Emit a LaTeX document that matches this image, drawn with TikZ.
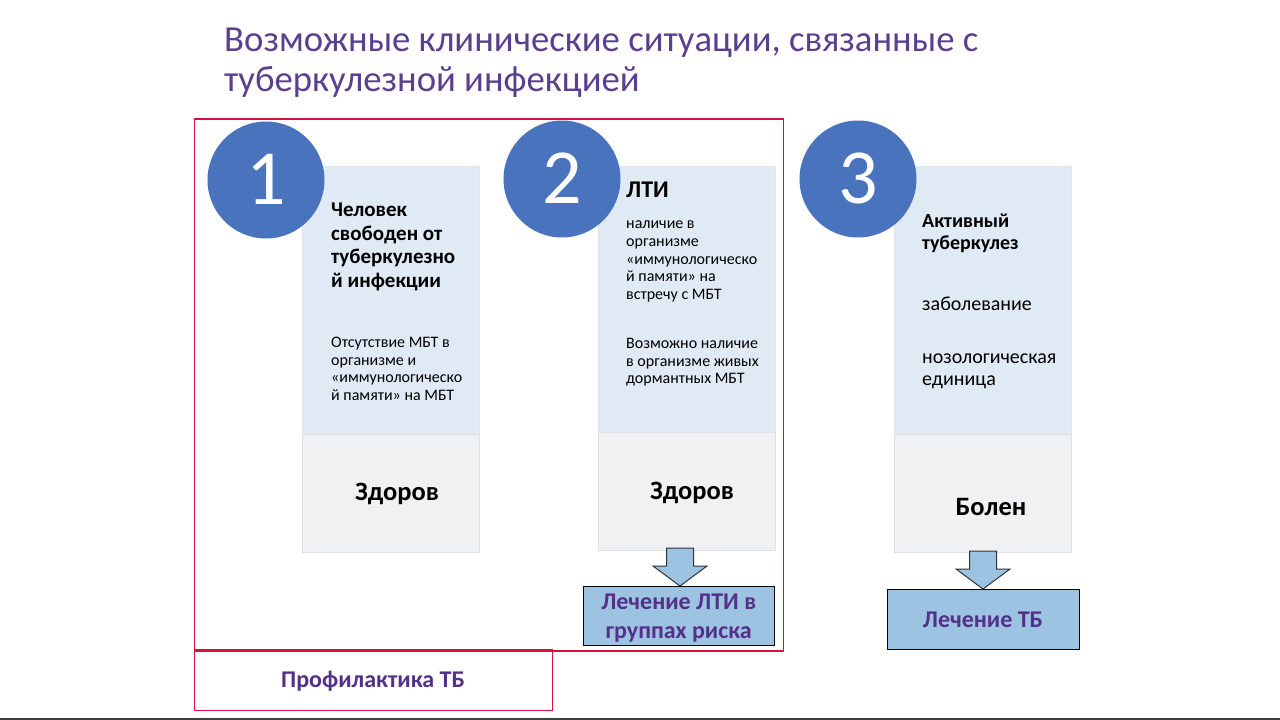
\documentclass[tikz,border=0pt]{standalone}
\usepackage{fontspec}
\setmainfont{Carlito}
\definecolor{titlepurple}{HTML}{5B3F8F}
\definecolor{deeppurple}{HTML}{553088}
\definecolor{circleblue}{HTML}{4A73BE}
\definecolor{paleblue}{HTML}{E0EAF4}
\definecolor{palegrey}{HTML}{F0F1F2}
\definecolor{stepblue}{HTML}{9DC3E2}
\definecolor{framered}{HTML}{D8103C}
\tikzstyle{titletext} = [anchor=north west, inner sep=0, align=left, font=\fontsize{36.7}{40}\selectfont, text=titlepurple]
\tikzstyle{bigdot} = [shape=circle, minimum size=117pt, inner sep=0, fill=circleblue, text=white, font=\fontsize{78}{78}\selectfont]
\tikzstyle{upperbox} = [rectangle, anchor=north west, minimum width=177pt, minimum height=268pt, fill=paleblue, draw=black!10, line width=.5pt]
\tikzstyle{lowerbox} = [rectangle, anchor=north west, minimum width=177pt, minimum height=118pt, fill=palegrey, draw=black!12, line width=.5pt]
\tikzstyle{head} = [anchor=north west, inner sep=0, align=left, font=\bfseries\fontsize{21}{23.4}\selectfont]
\tikzstyle{body} = [anchor=north west, inner sep=0, align=left, font=\fontsize{16}{17.6}\selectfont]
\tikzstyle{verdict} = [inner sep=0, font=\bfseries\fontsize{26.5}{30}\selectfont]
\tikzstyle{treat} = [rectangle, anchor=north west, fill=stepblue, draw=black, line width=1pt, align=center, text=deeppurple, font=\bfseries\fontsize{24}{28.5}\selectfont]
\tikzstyle{blockarrow} = [draw=black!80, fill=stepblue, line width=1pt, line join=miter]
\tikzstyle{frame} = [rectangle, anchor=north west, draw=framered, line width=1.5pt]
\newcommand{\downarrowshape}{-- ++(-27,-20) -- ++(13.5,0) -- ++(0,-18) -- ++(27,0) -- ++(0,18) -- ++(13.5,0) -- cycle}
\begin{document}
\begin{tikzpicture}[x=1pt,y=-1pt]
\useasboundingbox (0,0) rectangle (1280,720);
\fill[white] (0,0) rectangle (1280,720);
\fill[black!75] (0,717.5) rectangle (1280,720);
\node[titletext] (title) at (224,28) {Возможные клинические ситуации, связанные с\\туберкулезной инфекцией};
% column 1
\node[upperbox] (upper1) at (302,166) {};
\node[lowerbox] (lower1) at (302,434) {};
\node[bigdot] (dot1) at (266,180) {\raisebox{2pt}{1}};
\node[head] (head1) at (331,203) {Человек\\свободен от\\туберкулезно\\й инфекции};
\node[body] (body1) at (331,337) {Отсутствие МБТ в\\организме и\\«иммунологическо\\й памяти» на МБТ};
\node[verdict] (verdict1) at (397,494) {Здоров};
% column 2
\node[upperbox] (upper2) at (598,166) {};
\node[lowerbox] (lower2) at (598,432) {};
\node[bigdot] (dot2) at (562,179) {\raisebox{2pt}{2}};
\node[head,font=\bfseries\fontsize{24}{24}\selectfont] (head2) at (626,182) {ЛТИ};
\node[body] (body2) at (626,221) {наличие в\\организме\\«иммунологическо\\й памяти» на\\встречу с МБТ};
\node[body] (more2) at (626,338) {Возможно наличие\\в организме живых\\дормантных МБТ};
\node[verdict] (verdict2) at (692,493) {Здоров};
% column 3
\node[upperbox] (upper3) at (894,166) {};
\node[lowerbox] (lower3) at (894,434) {};
\node[bigdot] (dot3) at (858,179) {\raisebox{2pt}{3}};
\node[head,font=\bfseries\fontsize{20}{22}\selectfont] (head3) at (922,214) {Активный\\туберкулез};
\node[body,font=\fontsize{20}{22}\selectfont] (body3) at (922,297) {заболевание};
\node[body,font=\fontsize{20}{22}\selectfont] (more3) at (922,354) {нозологическая\\единица};
\node[verdict] (verdict3) at (991,507) {Болен};
% treatment
\coordinate (tip2) at (680,586);
\draw[blockarrow] (tip2) \downarrowshape;
\node[treat,minimum width=191.5pt,minimum height=59pt] (treat2) at (582.5,586) {\rule{0pt}{20pt}Лечение ЛТИ в\\группах риска};
\coordinate (tip3) at (983,589);
\draw[blockarrow] (tip3) \downarrowshape;
\node[treat,minimum width=192pt,minimum height=60pt] (treat3) at (886.5,589) {Лечение ТБ};
% red frames
\node[frame,minimum width=589pt,minimum height=532pt] (riskframe) at (193.5,118.3) {};
\node[frame,minimum width=358pt,minimum height=60.5pt] (prevframe) at (193.5,649.3) {};
\node[text=deeppurple,font=\bfseries\fontsize{24}{28}\selectfont,inner sep=0] (prevtext) at (373,681) {Профилактика ТБ};
\end{tikzpicture}
\end{document}
